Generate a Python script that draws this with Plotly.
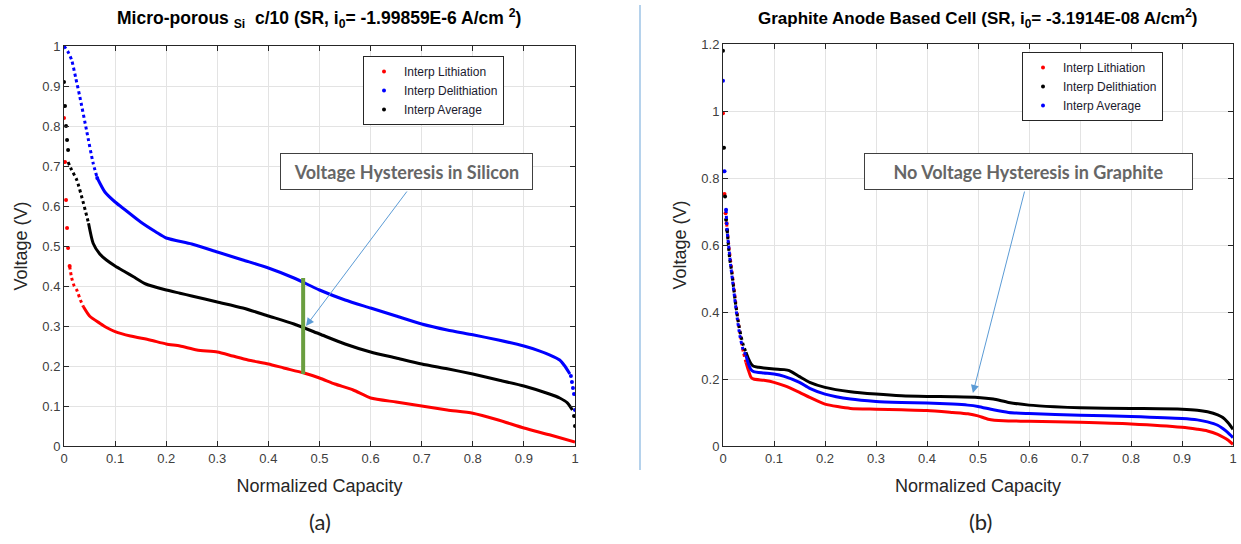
import plotly.graph_objects as go

# ---------------- Data: (a) Micro-porous Si ----------------
# Lithiation (red)
si_li_head_x = [0.0, 0.002, 0.004, 0.006, 0.008, 0.011]
si_li_head_v = [0.82, 0.71, 0.615, 0.545, 0.495, 0.45]
si_li_dot_x = [0.011, 0.015, 0.02, 0.025, 0.032, 0.038]
si_li_dot_v = [0.45, 0.42, 0.40, 0.39, 0.365, 0.348]
si_li_x = [0.038, 0.05, 0.07, 0.085, 0.1, 0.13, 0.168, 0.2, 0.227, 0.26, 0.3, 0.33, 0.36, 0.4,
           0.43, 0.468, 0.5, 0.53, 0.566, 0.6, 0.65, 0.7, 0.75, 0.8, 0.85, 0.9, 0.95, 1.0]
si_li_v = [0.348, 0.325, 0.307, 0.295, 0.286, 0.275, 0.265, 0.255, 0.25, 0.24, 0.235, 0.225, 0.215, 0.205,
           0.195, 0.183, 0.17, 0.155, 0.14, 0.12, 0.11, 0.10, 0.09, 0.082, 0.065, 0.045, 0.028, 0.01]

# Delithiation (blue)
si_de_dot_x = [0.0, 0.008, 0.015, 0.023, 0.031, 0.044, 0.057, 0.065]
si_de_dot_v = [1.0, 0.985, 0.965, 0.92, 0.873, 0.79, 0.707, 0.67]
si_de_x = [0.065, 0.08, 0.1, 0.12, 0.15, 0.18, 0.2, 0.25, 0.3, 0.35, 0.4, 0.45, 0.5, 0.55, 0.6,
           0.65, 0.7, 0.75, 0.8, 0.85, 0.9, 0.93, 0.95, 0.97, 0.98, 0.99]
si_de_v = [0.67, 0.635, 0.61, 0.59, 0.56, 0.535, 0.52, 0.505, 0.485, 0.465, 0.445, 0.42, 0.39, 0.365, 0.345,
           0.325, 0.305, 0.29, 0.278, 0.265, 0.25, 0.238, 0.228, 0.215, 0.2, 0.18]
si_de_tail_x = [0.992, 0.994, 0.996, 0.998, 1.0]
si_de_tail_v = [0.175, 0.16, 0.145, 0.13, 0.09]

# Average (black)
si_av_head_x = [0.0, 0.002, 0.004, 0.006, 0.008]
si_av_head_v = [0.91, 0.85, 0.80, 0.765, 0.74]
si_av_dot_x = [0.008, 0.015, 0.025, 0.038, 0.048]
si_av_dot_v = [0.71, 0.69, 0.665, 0.607, 0.557]
si_av_x = [0.048, 0.057, 0.07, 0.083, 0.1, 0.12, 0.136, 0.16, 0.2, 0.227, 0.25, 0.3, 0.35, 0.4, 0.45,
           0.5, 0.55, 0.6, 0.65, 0.7, 0.75, 0.8, 0.85, 0.9, 0.95, 0.97, 0.985, 0.995]
si_av_v = [0.557, 0.507, 0.48, 0.465, 0.45, 0.435, 0.423, 0.405, 0.39, 0.382, 0.375, 0.36, 0.345, 0.325, 0.305,
           0.28, 0.255, 0.235, 0.22, 0.205, 0.193, 0.18, 0.165, 0.15, 0.13, 0.12, 0.108, 0.09]
si_av_tail_x = [0.998, 1.0]
si_av_tail_v = [0.075, 0.05]

# ---------------- Data: (b) Graphite ----------------
# Lithiation (red)
gr_li_head_x = [0.0, 0.003, 0.005, 0.007]
gr_li_head_v = [0.993, 0.752, 0.695, 0.665]
gr_li_dot_x = [0.007, 0.009, 0.012, 0.016, 0.02, 0.024, 0.029, 0.034, 0.04, 0.045]
gr_li_dot_v = [0.665, 0.636, 0.59, 0.54, 0.49, 0.44, 0.38, 0.33, 0.28, 0.25]
gr_li_x = [0.045, 0.05, 0.055, 0.06, 0.08, 0.1, 0.12, 0.15, 0.17, 0.2, 0.25, 0.3, 0.35, 0.4, 0.45,
           0.48, 0.5, 0.52, 0.55, 0.6, 0.7, 0.8, 0.9, 0.93, 0.95, 0.97, 0.98, 0.99, 1.0]
gr_li_v = [0.25, 0.225, 0.205, 0.2, 0.196, 0.19, 0.18, 0.16, 0.145, 0.125, 0.112, 0.11, 0.108, 0.106, 0.1,
           0.096, 0.09, 0.08, 0.075, 0.074, 0.071, 0.066, 0.056, 0.05, 0.045, 0.035, 0.027, 0.018, 0.005]

# Delithiation (black)
gr_de_head_x = [0.0, 0.002, 0.004, 0.006, 0.008]
gr_de_head_v = [1.18, 0.89, 0.745, 0.675, 0.645]
gr_de_dot_x = [0.008, 0.01, 0.013, 0.017, 0.021, 0.025, 0.03, 0.035, 0.04, 0.045]
gr_de_dot_v = [0.645, 0.61, 0.56, 0.52, 0.47, 0.42, 0.37, 0.33, 0.30, 0.28]
gr_de_x = [0.045, 0.05, 0.055, 0.06, 0.07, 0.08, 0.1, 0.12, 0.13, 0.15, 0.17, 0.2, 0.25, 0.3, 0.35, 0.4,
           0.45, 0.5, 0.53, 0.56, 0.6, 0.65, 0.7, 0.8, 0.9, 0.93, 0.95, 0.97, 0.98, 0.99, 1.0]
gr_de_v = [0.28, 0.26, 0.245, 0.238, 0.235, 0.233, 0.23, 0.228, 0.225, 0.207, 0.19, 0.175, 0.162, 0.155, 0.15,
           0.148, 0.147, 0.145, 0.14, 0.13, 0.122, 0.117, 0.114, 0.112, 0.11, 0.107, 0.102, 0.093, 0.085, 0.07, 0.05]

# Average (blue)
gr_av_head_x = [0.0, 0.003, 0.006]
gr_av_head_v = [1.09, 0.82, 0.705]
gr_av_dot_x = [0.006, 0.008, 0.011, 0.015, 0.019, 0.023, 0.028, 0.033, 0.039, 0.045]
gr_av_dot_v = [0.705, 0.645, 0.6, 0.54, 0.49, 0.44, 0.38, 0.33, 0.29, 0.27]
gr_av_x = [0.045, 0.05, 0.055, 0.06, 0.08, 0.1, 0.12, 0.15, 0.17, 0.2, 0.25, 0.3, 0.35, 0.4, 0.45,
           0.48, 0.5, 0.53, 0.56, 0.6, 0.7, 0.8, 0.9, 0.93, 0.95, 0.97, 0.98, 0.99, 1.0]
gr_av_v = [0.27, 0.245, 0.228, 0.222, 0.218, 0.215, 0.208, 0.19, 0.172, 0.155, 0.14, 0.133, 0.13, 0.128, 0.125,
           0.122, 0.118, 0.108, 0.1, 0.097, 0.092, 0.088, 0.082, 0.078, 0.072, 0.062, 0.052, 0.04, 0.025]

RED, BLUE, BLACK = "#ff0000", "#0000ff", "#000000"
W, H = 1241, 544

fig = go.Figure()


def add_series(name, color, xa, ya, legend, head=None, dot=None, body=None, tail=None):
    if head:
        fig.add_trace(go.Scatter(x=head[0], y=head[1], mode="markers", name=name,
                                 marker=dict(color=color, size=4), xaxis=xa, yaxis=ya,
                                 legend=legend, showlegend=True))
    else:
        fig.add_trace(go.Scatter(x=body[0][:1], y=body[1][:1], mode="markers", name=name,
                                 marker=dict(color=color, size=4), xaxis=xa, yaxis=ya,
                                 legend=legend, showlegend=True))
    if dot:
        fig.add_trace(go.Scatter(x=dot[0], y=dot[1], mode="lines", showlegend=False,
                                 line=dict(color=color, width=3, dash="dot", shape="spline", smoothing=0.6),
                                 xaxis=xa, yaxis=ya, hoverinfo="skip"))
    fig.add_trace(go.Scatter(x=body[0], y=body[1], mode="lines", showlegend=False,
                             line=dict(color=color, width=3, shape="spline", smoothing=0.6),
                             xaxis=xa, yaxis=ya))
    if tail:
        fig.add_trace(go.Scatter(x=tail[0], y=tail[1], mode="markers", showlegend=False,
                                 marker=dict(color=color, size=4), xaxis=xa, yaxis=ya))


# (a)
add_series("Interp Lithiation", RED, "x", "y", "legend",
           head=(si_li_head_x, si_li_head_v), dot=(si_li_dot_x, si_li_dot_v), body=(si_li_x, si_li_v))
add_series("Interp Delithiation", BLUE, "x", "y", "legend",
           dot=(si_de_dot_x, si_de_dot_v), body=(si_de_x, si_de_v), tail=(si_de_tail_x, si_de_tail_v))
add_series("Interp Average", BLACK, "x", "y", "legend",
           head=(si_av_head_x, si_av_head_v), dot=(si_av_dot_x, si_av_dot_v), body=(si_av_x, si_av_v),
           tail=(si_av_tail_x, si_av_tail_v))

# (b)
add_series("Interp Lithiation", RED, "x2", "y2", "legend2",
           head=(gr_li_head_x, gr_li_head_v), dot=(gr_li_dot_x, gr_li_dot_v), body=(gr_li_x, gr_li_v))
add_series("Interp Delithiation", BLACK, "x2", "y2", "legend2",
           head=(gr_de_head_x, gr_de_head_v), dot=(gr_de_dot_x, gr_de_dot_v), body=(gr_de_x, gr_de_v))
add_series("Interp Average", BLUE, "x2", "y2", "legend2",
           head=(gr_av_head_x, gr_av_head_v), dot=(gr_av_dot_x, gr_av_dot_v), body=(gr_av_x, gr_av_v))

FONT = "Liberation Sans, Arial, sans-serif"
CAL = "Lato, Open Sans, sans-serif"
AX = "#262626"
TICKC = "#404040"


def px_x(p):
    return p / W


def px_y(p):
    return 1 - p / H


axis_common = dict(showline=True, linecolor=AX, linewidth=1, mirror="ticks", ticks="inside",
                   ticklen=5, tickcolor=AX, showgrid=True, gridcolor="#e3e3e3", gridwidth=1,
                   zeroline=False, automargin=False,
                   tickfont=dict(family=FONT, size=13, color=TICKC))

xtitle = dict(text="Normalized Capacity", font=dict(family=FONT, size=18, color="#262626"), standoff=14)
ytitle = dict(text="Voltage (V)", font=dict(family=FONT, size=18, color="#262626"), standoff=10)

fig.update_layout(
    width=W, height=H, margin=dict(l=0, r=0, t=0, b=0, autoexpand=False),
    paper_bgcolor="white", plot_bgcolor="white",
    font=dict(family=FONT, color="#262626"),
    xaxis=dict(domain=[px_x(64), px_x(575)], range=[0, 1], dtick=0.1, anchor="y",
               title=xtitle, **axis_common),
    yaxis=dict(domain=[px_y(446), px_y(46)], range=[0, 1], dtick=0.1, anchor="x",
               title=ytitle, **axis_common),
    xaxis2=dict(domain=[px_x(723), px_x(1233)], range=[0, 1], dtick=0.1, anchor="y2",
                title=xtitle, **axis_common),
    yaxis2=dict(domain=[px_y(446), px_y(44)], range=[0, 1.2], dtick=0.2, anchor="x2",
                title=ytitle, **axis_common),
    legend=dict(x=px_x(363), y=px_y(56), xanchor="left", yanchor="top",
                bgcolor="white", bordercolor=AX, borderwidth=1,
                font=dict(family=FONT, size=12, color="#1a1a2e")),
    legend2=dict(x=px_x(1022), y=px_y(52), xanchor="left", yanchor="top",
                 bgcolor="white", bordercolor=AX, borderwidth=1,
                 font=dict(family=FONT, size=12, color="#1a1a2e")),
    showlegend=True,
)

# Green hysteresis bar
fig.add_shape(type="line", xref="x", yref="y", x0=0.468, x1=0.468, y0=0.42, y1=0.18,
              line=dict(color="#6A9E3F", width=4))

# Separator line
fig.add_shape(type="line", xref="paper", yref="paper", x0=px_x(640), x1=px_x(640),
              y0=px_y(5), y1=px_y(470), line=dict(color="#9DC3E6", width=1.5))

# Titles
fig.add_annotation(xref="paper", yref="paper", x=px_x(319), y=px_y(19), showarrow=False,
                   xanchor="center", yanchor="middle",
                   text="<b>Micro-porous <sub>Si</sub>  c/10 (SR, i<sub>0</sub>= -1.99859E-6 A/cm <sup>2</sup>)</b>",
                   font=dict(family=FONT, size=17.5, color="black"))
fig.add_annotation(xref="paper", yref="paper", x=px_x(978), y=px_y(19), showarrow=False,
                   xanchor="center", yanchor="middle",
                   text="<b>Graphite Anode Based Cell (SR, i<sub>0</sub>= -3.1914E-08 A/cm<sup>2</sup>)</b>",
                   font=dict(family=FONT, size=17, color="black"))

# Callout boxes
fig.add_annotation(xref="paper", yref="paper", x=px_x(406.5), y=px_y(171.5), showarrow=False,
                   xanchor="center", yanchor="middle",
                   text="<b>Voltage Hysteresis in Silicon</b>", width=247, height=31,
                   bgcolor="white", bordercolor="#404040", borderwidth=1, borderpad=2,
                   font=dict(family=CAL, size=18, color="#666666"))
fig.add_annotation(xref="paper", yref="paper", x=px_x(1028.5), y=px_y(171.5), showarrow=False,
                   xanchor="center", yanchor="middle",
                   text="<b>No Voltage Hysteresis in Graphite</b>", width=323, height=31,
                   bgcolor="white", bordercolor="#404040", borderwidth=1, borderpad=2,
                   font=dict(family=CAL, size=18, color="#666666"))

# Arrows
fig.add_annotation(xref="x", yref="y", x=0.4736, y=0.30, ax=102, ay=-136, text="",
                   showarrow=True, arrowhead=2, arrowsize=1.6, arrowwidth=1, arrowcolor="#5B9BD5",
                   standoff=0)
fig.add_annotation(xref="x2", yref="y2", x=0.49, y=0.158, ax=52, ay=-203, text="",
                   showarrow=True, arrowhead=2, arrowsize=1.6, arrowwidth=1, arrowcolor="#5B9BD5",
                   standoff=0)

# Panel labels
fig.add_annotation(xref="paper", yref="paper", x=px_x(320), y=px_y(521), showarrow=False,
                   xanchor="center", yanchor="middle",
                   text="(a)", font=dict(family=CAL, size=22, color="#262626"))
fig.add_annotation(xref="paper", yref="paper", x=px_x(980), y=px_y(521), showarrow=False,
                   xanchor="center", yanchor="middle",
                   text="(b)", font=dict(family=CAL, size=22, color="#262626"))

fig.write_html("out.html")
